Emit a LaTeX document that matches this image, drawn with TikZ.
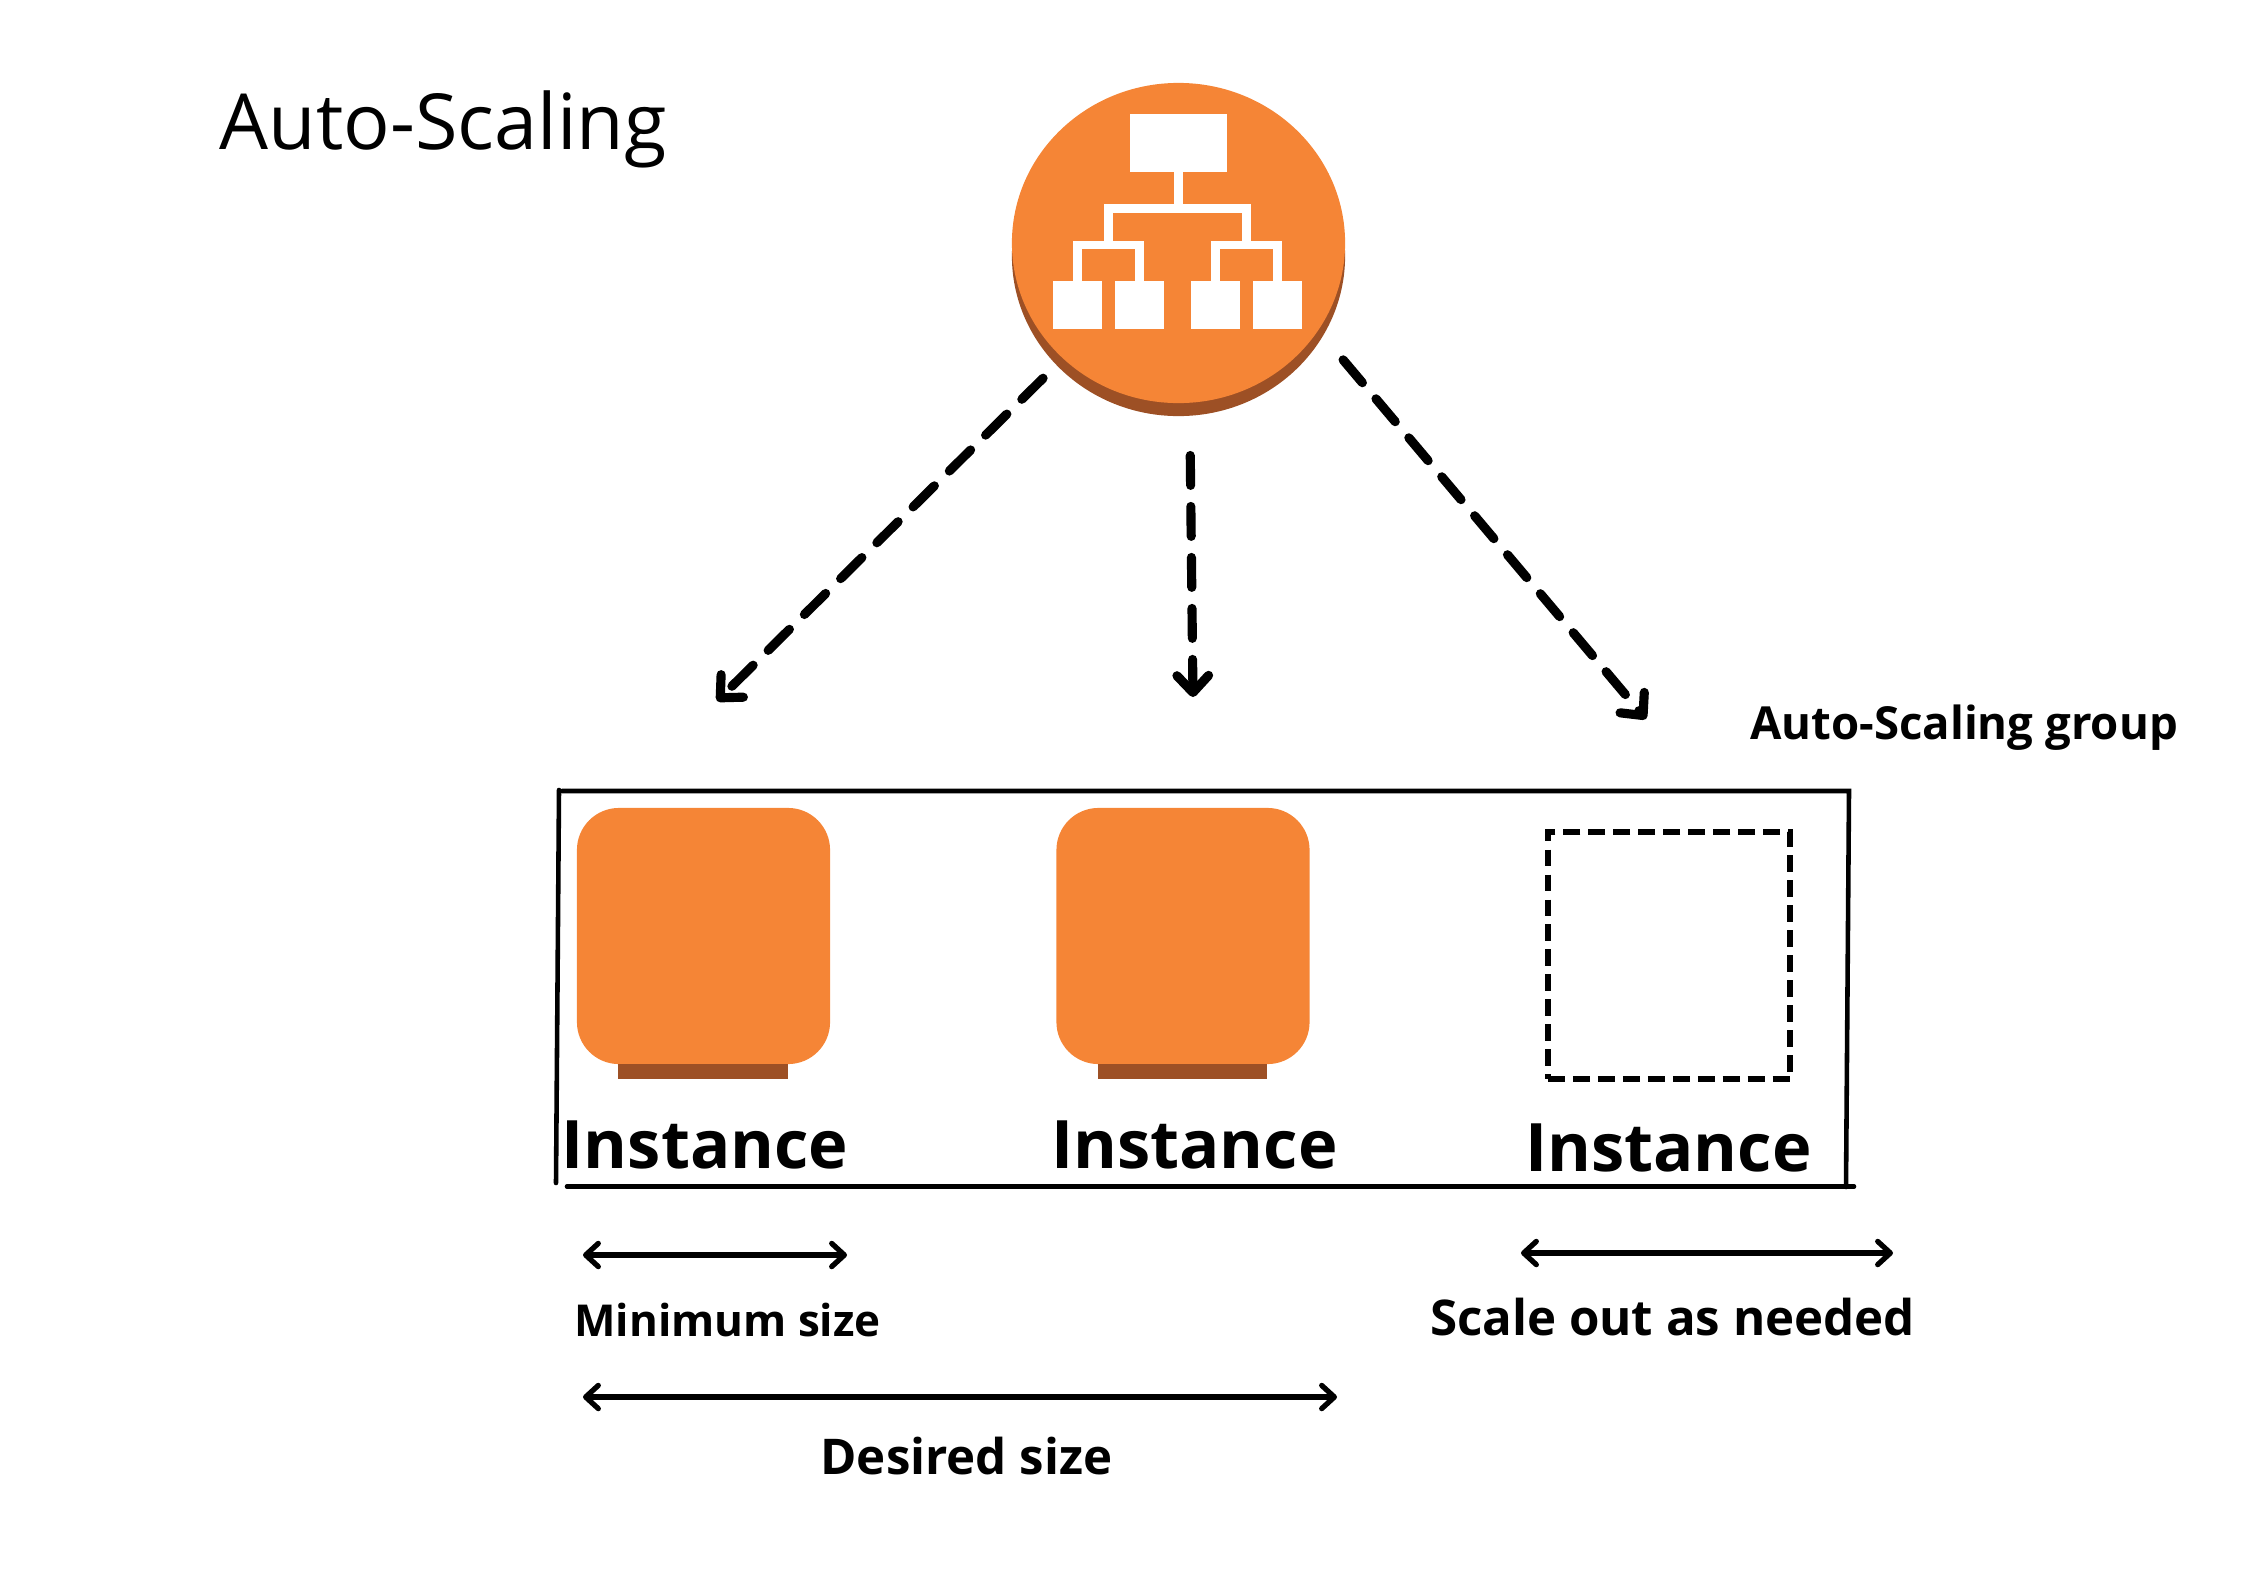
\documentclass[tikz,border=0pt]{standalone}
\usepackage{fontspec}
\setmainfont{Open Sans}
\usepackage{xcolor}
\usetikzlibrary{shapes,arrows.meta,positioning}
\definecolor{awsorange}{HTML}{F58536}
\definecolor{awsbrown}{HTML}{9D5025}
\tikzset{
  disc/.style={ellipse, fill=#1, minimum width=3.33cm, minimum height=3.2cm, inner sep=0, outer sep=0},
  logobox/.style={rectangle, fill=white, inner sep=0, outer sep=0},
  logoline/.style={draw=white, line width=2.5pt},
  instbox/.style={rectangle, fill=awsorange, rounded corners=0.42cm, minimum width=2.53cm, minimum height=2.56cm, inner sep=0, outer sep=0},
  instfoot/.style={rectangle, fill=awsbrown, minimum width=1.69cm, minimum height=0.15cm, inner sep=0, outer sep=0, xshift=-0.005cm},
  emptybox/.style={rectangle, draw, line width=1.6pt, dash pattern=on 4.8pt off 2.3pt, minimum width=2.42cm, minimum height=2.47cm, inner sep=0, outer sep=0},
  frameline/.style={line width=1.3pt, line cap=round},
  scalearrow/.style={-{Straight Barb[length=4.8pt, width=9pt, round]}, line width=2.6pt, line cap=round, dash pattern=on 8.5pt off 6pt},
  sizearrow/.style={{Straight Barb[length=3.6pt, width=6.6pt, round]}-{Straight Barb[length=3.6pt, width=6.6pt, round]}, line width=1.5pt, line cap=round},
  textlabel/.style={anchor=base, inner sep=0, outer sep=0, font=\bfseries\fontsize{#1}{#1}\selectfont},
}

\begin{document}
\begin{tikzpicture}[x=0.01cm, y=-0.01cm]
\useasboundingbox (0,0) rectangle (2245,1587);

\node[anchor=base west, inner sep=0, font=\fontsize{22pt}{24pt}\selectfont] (title) at (219,149) {Auto-Scaling};

\node[disc=awsbrown] (shade) at (1178.5,256) {};
\node[disc=awsorange] (scaler) at (1178.5,243) {};

\node[logobox, minimum width=0.97cm, minimum height=0.575cm] (root) at (1178.5,143) {};
\node[logobox, minimum width=0.49cm, minimum height=0.47cm] (leafa) at (1077.5,305) {};
\node[logobox, minimum width=0.49cm, minimum height=0.47cm] (leafb) at (1139.6,305) {};
\node[logobox, minimum width=0.49cm, minimum height=0.47cm] (leafc) at (1215.3,305) {};
\node[logobox, minimum width=0.49cm, minimum height=0.47cm] (leafd) at (1277.3,305) {};
\coordinate (hub) at (1178.5,208.5);
\coordinate (joinl) at (1108.5,245);
\coordinate (joinr) at (1246.5,245);
\draw[logoline] (root) -- (hub);
\draw[logoline] (joinl) |- (hub) -| (joinr);
\draw[logoline] (leafa.north) |- (joinl) -| (leafb.north);
\draw[logoline] (leafc.north) |- (joinr) -| (leafd.north);

\coordinate (tipl) at (717,701);
\coordinate (tipm) at (1193,697);
\coordinate (tipr) at (1646,719);
\draw[scalearrow, shorten <=8pt] (scaler.225.9) -- (tipl);
\draw[scalearrow, shorten <=15pt] (scaler.-86.6) -- (tipm);
\draw[scalearrow, shorten <=11pt] (scaler.-32.7) -- (tipr);

\node[textlabel=12.95pt] (grouplabel) at (1964,739.5) {Auto-Scaling group};

\coordinate (gnw) at (559,790);
\coordinate (gsw) at (556,1183);
\coordinate (tnw) at (562,791);
\coordinate (tne) at (1849,791);
\coordinate (gse) at (1846,1187);
\coordinate (bsw) at (567,1186.5);
\coordinate (bse) at (1854,1186.5);
\draw[frameline] (gnw) -- (gsw);
\draw[frameline] (tnw) -- (tne) -- (gse);
\draw[frameline] (bsw) -- (bse);

\node[instbox] (insta) at (703.5,936) {};
\node[instfoot, below=0pt of insta] (foota) {};
\node[instbox] (instb) at (1183,936) {};
\node[instfoot, below=0pt of instb] (footb) {};
\node[emptybox] (instc) at (1669,955.5) {};

\node[textlabel=19pt] (labela) at (705,1168) {Instance};
\node[textlabel=19pt] (labelb) at (1194.5,1168) {Instance};
\node[textlabel=19pt] (labelc) at (1668.5,1171.5) {Instance};

\coordinate (mina) at (583,1255);
\coordinate (minb) at (847,1255);
\coordinate (desa) at (583,1397);
\coordinate (desb) at (1337,1397);
\coordinate (outa) at (1521,1253);
\coordinate (outb) at (1893,1253);
\draw[sizearrow] (mina) -- (minb);
\draw[sizearrow] (desa) -- (desb);
\draw[sizearrow] (outa) -- (outb);

\node[textlabel=12.5pt] (minlabel) at (727.5,1336) {Minimum size};
\node[textlabel=14pt] (deslabel) at (966.5,1474) {Desired size};
\node[textlabel=14pt] (outlabel) at (1672.5,1335.5) {Scale out as needed};
\end{tikzpicture}
\end{document}
